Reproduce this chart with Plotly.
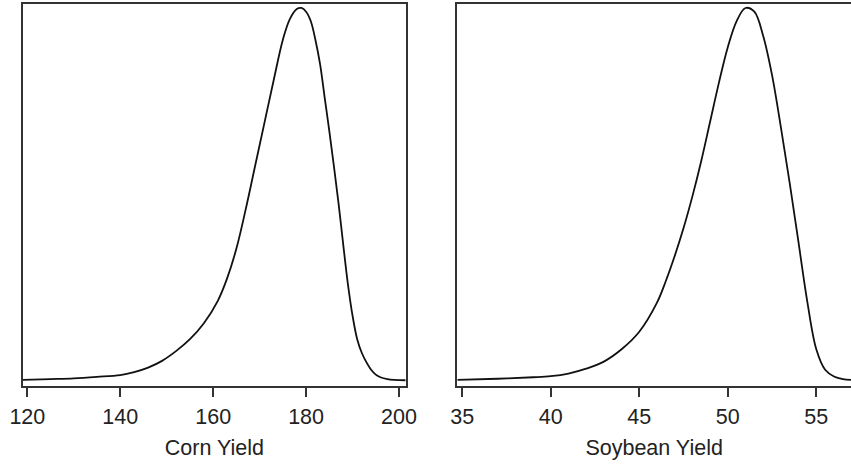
import plotly.graph_objects as go

# Corn yield density (normalized to peak = 1)
corn_x = [119.07, 125, 130, 135, 140, 143, 146, 149, 152, 155, 158, 161, 163, 165,
          167, 169, 171, 173, 175, 176.5, 178, 179, 180, 181, 182, 183, 184, 185,
          186, 187, 188, 189, 190, 191, 192, 193, 194, 195, 196, 197.5, 199, 201.44]
corn_d = [0.003, 0.005, 0.007, 0.011, 0.016, 0.024, 0.036, 0.054, 0.080, 0.112,
          0.155, 0.215, 0.275, 0.355, 0.460, 0.575, 0.690, 0.805, 0.915, 0.970,
          0.997, 1.0, 0.990, 0.965, 0.915, 0.850, 0.760, 0.670, 0.575, 0.475,
          0.365, 0.260, 0.175, 0.112, 0.075, 0.050, 0.030, 0.017, 0.010, 0.005,
          0.003, 0.002]

# Soybean yield density (normalized to peak = 1)
soy_x = [34.72, 37, 39, 40, 41, 42, 43, 44, 45, 46, 46.5, 47, 47.5, 48, 48.5, 49,
         49.5, 50, 50.5, 51, 51.5, 52, 52.5, 53, 53.5, 54, 54.5, 55, 55.5, 56, 56.5,
         56.96]
soy_d = [0.003, 0.006, 0.010, 0.013, 0.020, 0.033, 0.052, 0.085, 0.132, 0.210,
         0.268, 0.335, 0.410, 0.495, 0.590, 0.695, 0.800, 0.895, 0.965, 1.0, 0.990,
         0.925, 0.820, 0.680, 0.530, 0.370, 0.210, 0.085, 0.030, 0.012, 0.005, 0.003]

corn_ticks = [120, 140, 160, 180, 200]
soy_ticks = [35, 40, 45, 50, 55]
titles = ["Corn Yield", "Soybean Yield"]

FONT = dict(family="Liberation Sans, Arial, sans-serif", size=21.5, color="#222")
BOX = "#333"

fig = go.Figure()
fig.add_trace(go.Scatter(x=corn_x, y=corn_d, mode="lines", xaxis="x", yaxis="y",
                         line=dict(color="#111", width=1.8, shape="spline", smoothing=1.0),
                         showlegend=False, hoverinfo="skip"))
fig.add_trace(go.Scatter(x=soy_x, y=soy_d, mode="lines", xaxis="x2", yaxis="y2",
                         line=dict(color="#111", width=1.8, shape="spline", smoothing=1.0),
                         showlegend=False, hoverinfo="skip"))

W, H = 851, 464
ydom = [(H - 386) / H, (H - 4) / H]
yrange = [-0.0134, 1.0107]

def xax(dom, rng, ticks, title, anchor):
    return dict(domain=dom, range=rng, tickvals=ticks, ticktext=[str(t) for t in ticks],
                ticks="outside", ticklen=9, tickwidth=1.5, tickcolor=BOX,
                showline=True, linecolor=BOX, linewidth=2, mirror=True,
                showgrid=False, zeroline=False, anchor=anchor, automargin=False,
                tickfont=FONT, ticklabelstandoff=1,
                title=dict(text=title, font=FONT, standoff=12))

def yax(mirror, anchor):
    return dict(domain=ydom, range=yrange, showticklabels=False, ticks="",
                showline=True, linecolor=BOX, linewidth=2, mirror=mirror,
                showgrid=False, zeroline=False, anchor=anchor, automargin=False)

fig.update_layout(
    width=W, height=H,
    margin=dict(l=0, r=0, t=0, b=0),
    paper_bgcolor="white", plot_bgcolor="white",
    xaxis=xax([23 / W, 405.7 / W], [119.07, 201.44], corn_ticks, titles[0], "y"),
    yaxis=yax(True, "x"),
    xaxis2=xax([457.3 / W, 1.0], [34.72, 56.96], soy_ticks, titles[1], "y2"),
    yaxis2=yax(False, "x2"),
)

fig.write_html("out.html")
